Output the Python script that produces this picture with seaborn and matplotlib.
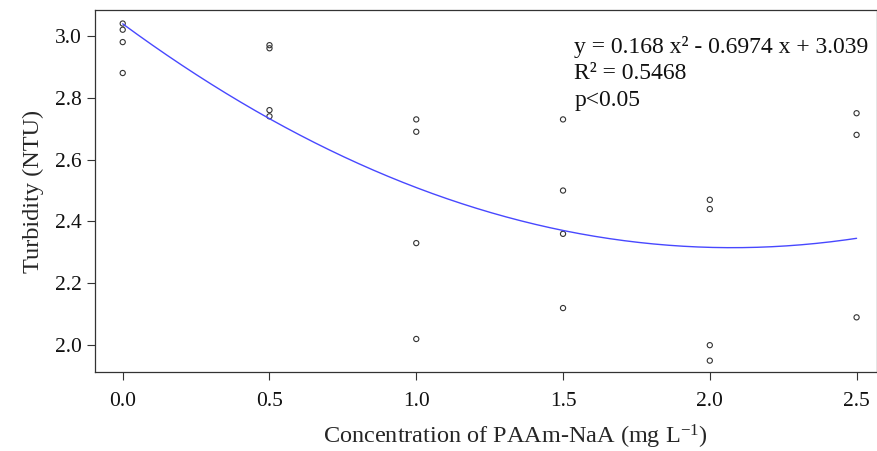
import matplotlib
matplotlib.use("Agg")
import matplotlib.pyplot as plt
import seaborn as sns
import numpy as np
import pandas as pd

# Data
concentration = [0.0, 0.0, 0.0, 0.0,
                 0.5, 0.5, 0.5, 0.5,
                 1.0, 1.0, 1.0, 1.0,
                 1.5, 1.5, 1.5, 1.5,
                 2.0, 2.0, 2.0, 2.0,
                 2.5, 2.5, 2.5]
turbidity = [3.04, 3.02, 2.98, 2.88,
             2.97, 2.96, 2.76, 2.74,
             2.73, 2.69, 2.33, 2.02,
             2.73, 2.50, 2.36, 2.12,
             2.47, 2.44, 2.00, 1.95,
             2.75, 2.68, 2.09]
# Quadratic fit coefficients as printed on the chart (a, b, c)
fit_coeffs = [0.168, -0.6974, 3.039]
x_ticks = [0.0, 0.5, 1.0, 1.5, 2.0, 2.5]
y_ticks = [2.0, 2.2, 2.4, 2.6, 2.8, 3.0]
annotation_lines = ["y = 0.168 x² - 0.6974 x + 3.039", "R² = 0.5468", "p<0.05"]

df = pd.DataFrame({"conc": concentration, "turb": turbidity})
fit_x = np.linspace(min(concentration), max(concentration), 200)
fit_df = pd.DataFrame({"conc": fit_x, "turb": np.polyval(fit_coeffs, fit_x)})

sns.set_style("white")
plt.rcParams['font.family'] = ['Liberation Serif', 'DejaVu Serif']
plt.rcParams['mathtext.fontset'] = 'custom'
plt.rcParams['mathtext.rm'] = 'Liberation Serif'

fig = plt.figure(figsize=(8.78, 4.51), dpi=100)
ax = fig.add_axes([0.108, 0.175, 0.891, 0.803])

sns.lineplot(data=fit_df, x="conc", y="turb", color="#4848ff", lw=1.0, ax=ax)
sns.scatterplot(data=df, x="conc", y="turb", marker="o", s=14,
                facecolors="none", edgecolor="#333333", linewidth=0.8, ax=ax)

ax.set_xlim(-0.095, 2.57)
ax.set_ylim(1.913, 3.084)
ax.set_xticks(x_ticks)
ax.set_xticklabels([f"{v:.1f}" for v in x_ticks], fontsize=15.5)
ax.set_yticks(y_ticks)
ax.set_yticklabels([f"{v:.1f}" for v in y_ticks], fontsize=15.5)
ax.tick_params(axis="both", direction="out", length=6, width=0.8, color="#333333",
               bottom=True, left=True, labelcolor="#111111")
ax.tick_params(axis="x", pad=8)
for s in ax.spines.values():
    s.set_color("#333333")
    s.set_linewidth(0.9)

ax.set_xlabel(r"Concentration of PAAm-NaA (mg L$\mathregular{^{-1}}$)", fontsize=17.5)
ax.xaxis.set_label_coords(0.538, -0.14)
ax.set_ylabel("Turbidity (NTU)", fontsize=17.5, labelpad=8)

for i, line in enumerate(annotation_lines):
    ax.text(0.613, 0.897 - i * 0.073, line, transform=ax.transAxes,
            fontsize=17, va="center", ha="left", color="#111111")

fig.savefig("out.png", dpi=100)
